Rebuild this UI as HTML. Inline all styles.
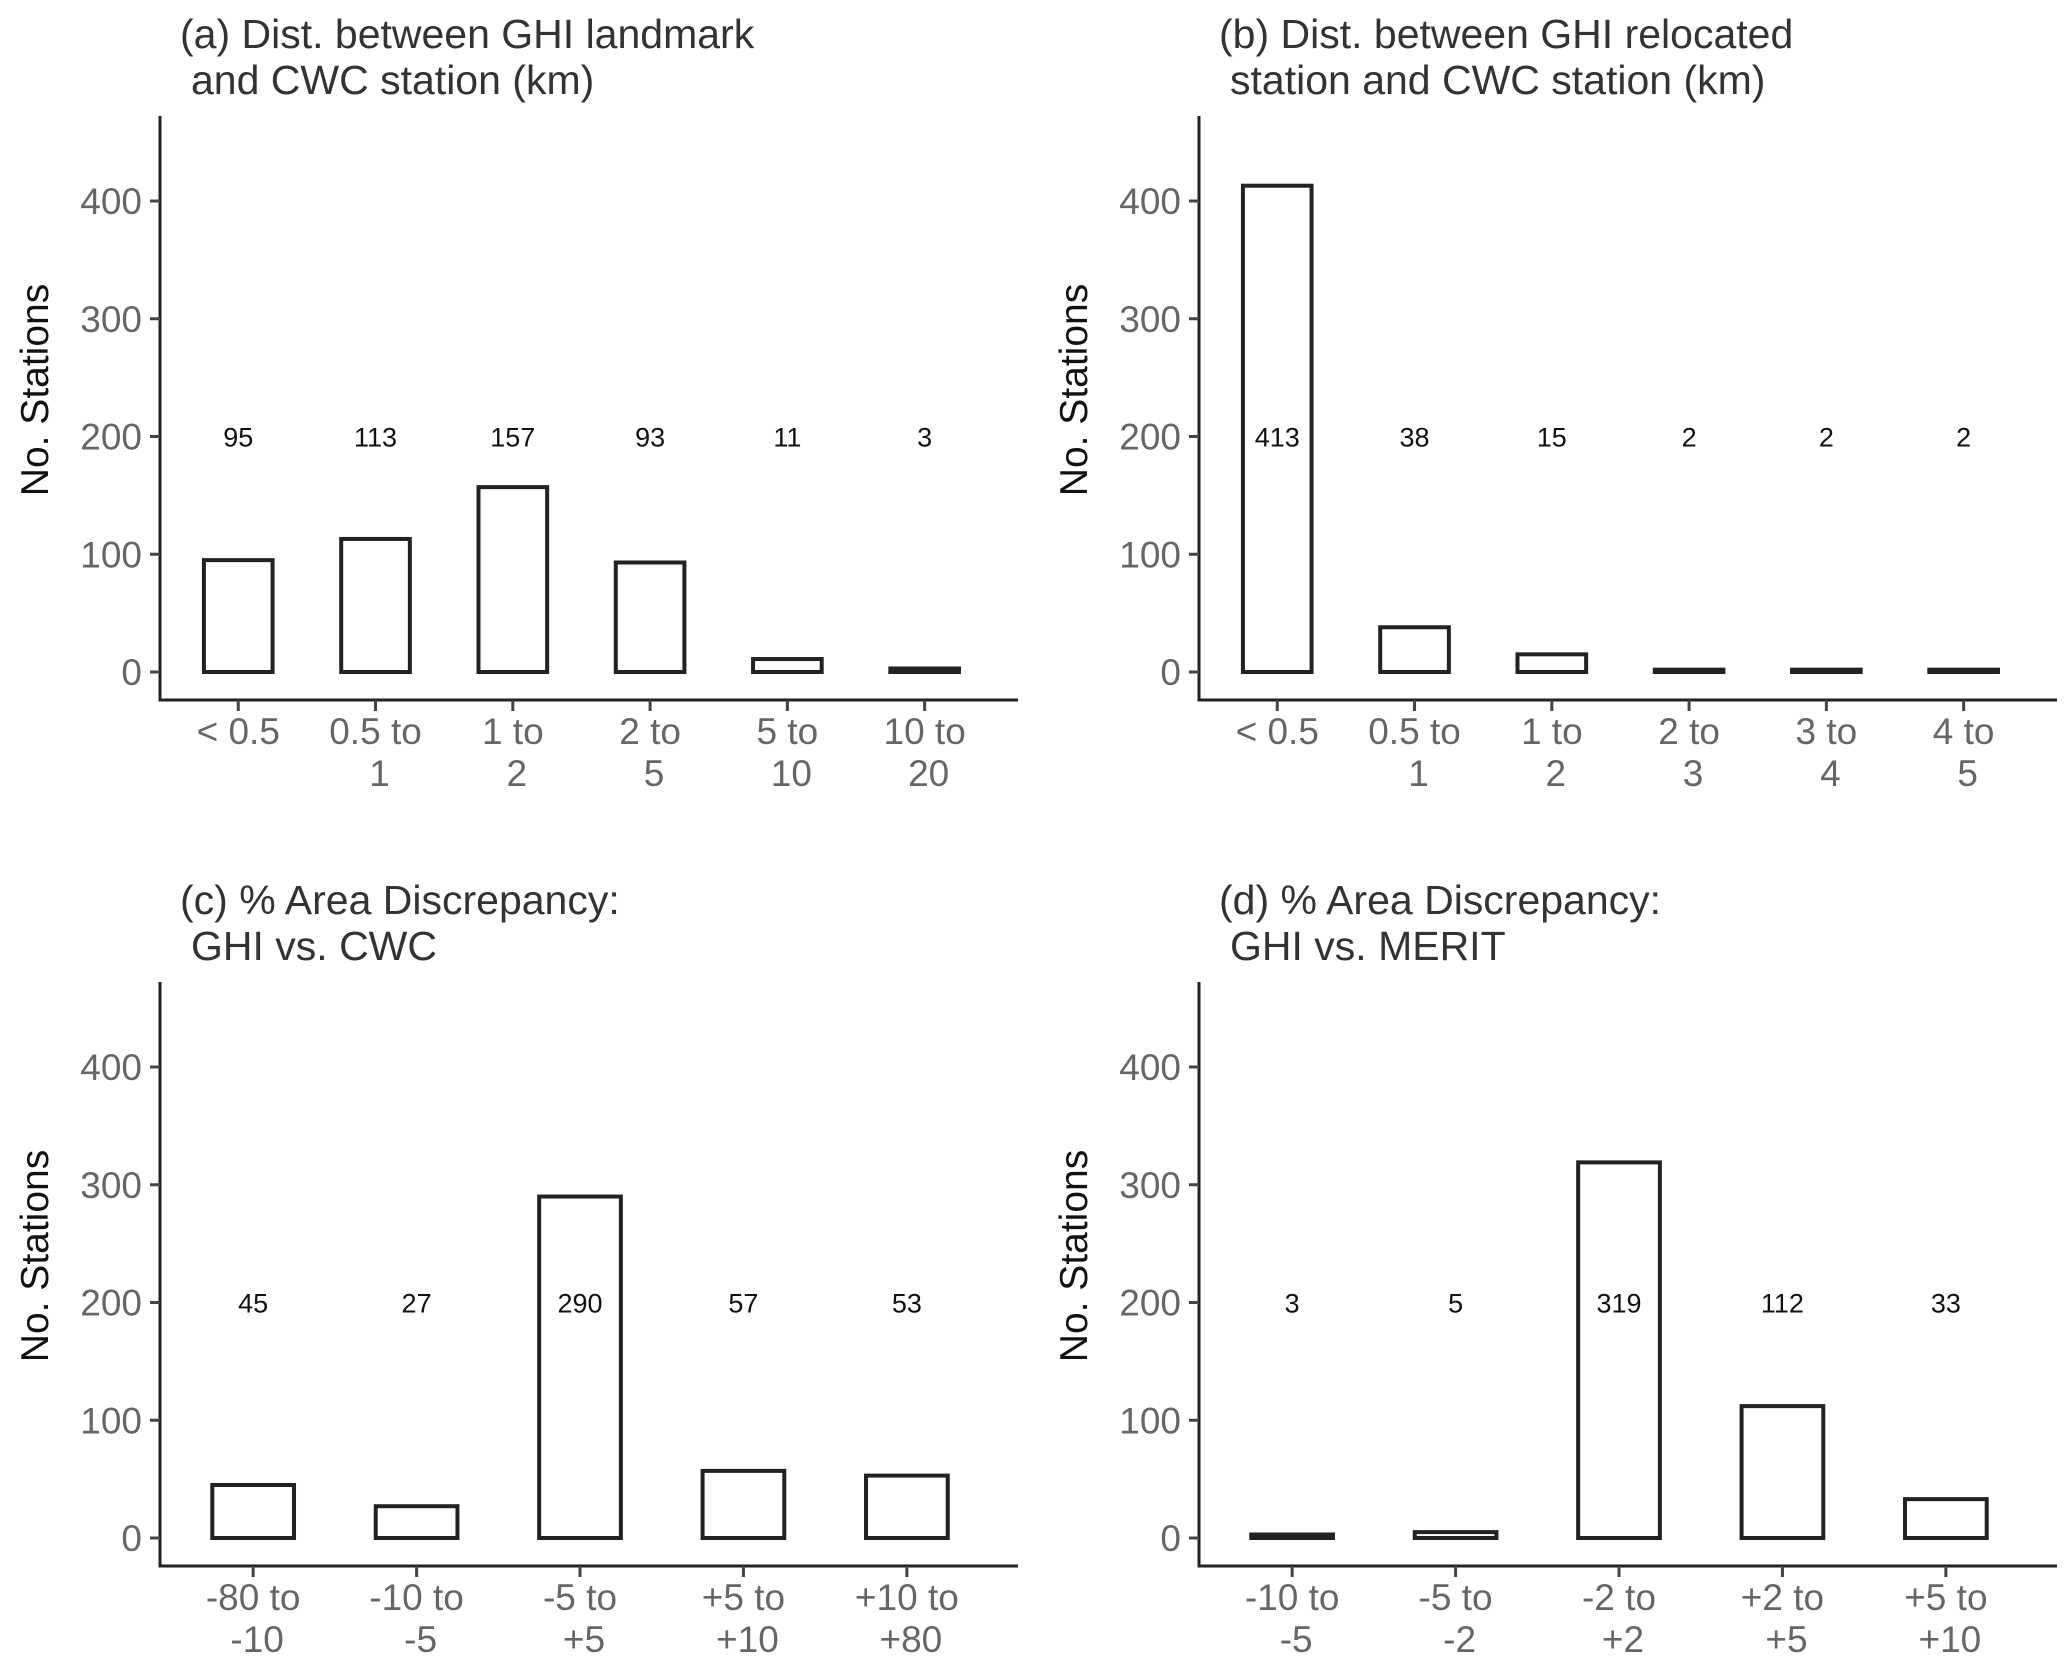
<!DOCTYPE html>
<html><head><meta charset="utf-8"><style>
html,body{margin:0;padding:0;background:#fff;}
svg text{font-family:"Liberation Sans",Arial,sans-serif;}
</style></head><body>
<svg id="fig" width="2067" height="1670" viewBox="0 0 2067 1670" xmlns="http://www.w3.org/2000/svg"></svg>
<script>
const catsA = [["< 0.5",""],["0.5 to","1"],["1 to","2"],["2 to","5"],["5 to","10"],["10 to","20"]];
const valsA = [95,113,157,93,11,3];
const catsB = [["< 0.5",""],["0.5 to","1"],["1 to","2"],["2 to","3"],["3 to","4"],["4 to","5"]];
const valsB = [413,38,15,2,2,2];
const catsC = [["-80 to","-10"],["-10 to","-5"],["-5 to","+5"],["+5 to","+10"],["+10 to","+80"]];
const valsC = [45,27,290,57,53];
const catsD = [["-10 to","-5"],["-5 to","-2"],["-2 to","+2"],["+2 to","+5"],["+5 to","+10"]];
const valsD = [3,5,319,112,33];
const yTicks = [0,100,200,300,400];
const labelY = 200;

const NS="http://www.w3.org/2000/svg";
const svg=document.getElementById('fig');
function mk(tag,attrs,parent){const e=document.createElementNS(NS,tag);for(const k in attrs)e.setAttribute(k,attrs[k]);(parent||svg).appendChild(e);return e;}

function panel(ox,oy,title1,title2,cats,vals,key){
  const g=mk('g',{transform:`translate(${ox},${oy})`});
  
  
  const x0=160,x1=1018,yTop=116,yAxis=700,y0=672,pxPer=117.75/100;
  const yS=v=>y0-v*pxPer;
  const n=cats.length, step=(x1-x0)/(n+0.25);
  const xS=i=>x0+step*(0.57+i);
  const t=mk('text',{x:180,y:48,'font-size':41,fill:'#333'},g);
  t.textContent=title1;
  
  
  const t2=mk('text',{x:191,y:94,'font-size':41,fill:'#333'},g);
  t2.textContent=title2;
  
  
  const ya=mk('line',{x1:x0,y1:yTop,x2:x0,y2:yAxis+1.5,stroke:'#222','stroke-width':3},g);
  
  
  const xa=mk('line',{x1:x0-1.5,y1:yAxis,x2:x1,y2:yAxis,stroke:'#222','stroke-width':3},g);
  
  
  yTicks.forEach(v=>{
    const tk=mk('line',{x1:x0-10,y1:yS(v),x2:x0,y2:yS(v),stroke:'#444','stroke-width':3},g);
    
    
    const tl=mk('text',{x:x0-18,y:yS(v)+13,'font-size':37,fill:'#666','text-anchor':'end'},g);
    tl.textContent=v;
    
    
  });
  const yt=mk('text',{x:0,y:0,'font-size':39,fill:'#111','text-anchor':'middle',transform:`translate(48,390) rotate(-90)`},g);
  yt.textContent='No. Stations';
  
  
  const bw=step*0.5;
  cats.forEach((c,i)=>{
    const cx=xS(i), v=vals[i];
    const r=mk('rect',{x:cx-bw/2,y:yS(v),width:bw,height:Math.max(v*pxPer,0.1),fill:'#fff',stroke:'#222','stroke-width':4},g);
    
    
    const vl=mk('text',{x:cx,y:yS(labelY)+10,'font-size':27,fill:'#111','text-anchor':'middle'},g);
    vl.textContent=v;
    
    
    const xt=mk('line',{x1:cx,y1:yAxis,x2:cx,y2:yAxis+11,stroke:'#444','stroke-width':3},g);
    
    
    const l1=mk('text',{x:cx,y:744,'font-size':37,fill:'#666','text-anchor':'middle'},g);
    l1.textContent=c[0];
    
    
    if(c[1]){
      const l2=mk('text',{x:cx+4,y:786,'font-size':37,fill:'#666','text-anchor':'middle'},g);
      l2.textContent=c[1];
      
      
    }
  });
}
panel(0,0,'(a) Dist. between GHI landmark','and CWC station (km)',catsA,valsA,'a');
panel(1039,0,'(b) Dist. between GHI relocated','station and CWC station (km)',catsB,valsB,'b');
panel(0,866,'(c) % Area Discrepancy:','GHI vs. CWC',catsC,valsC,'c');
panel(1039,866,'(d) % Area Discrepancy:','GHI vs. MERIT',catsD,valsD,'d');
</script>
</body></html>
